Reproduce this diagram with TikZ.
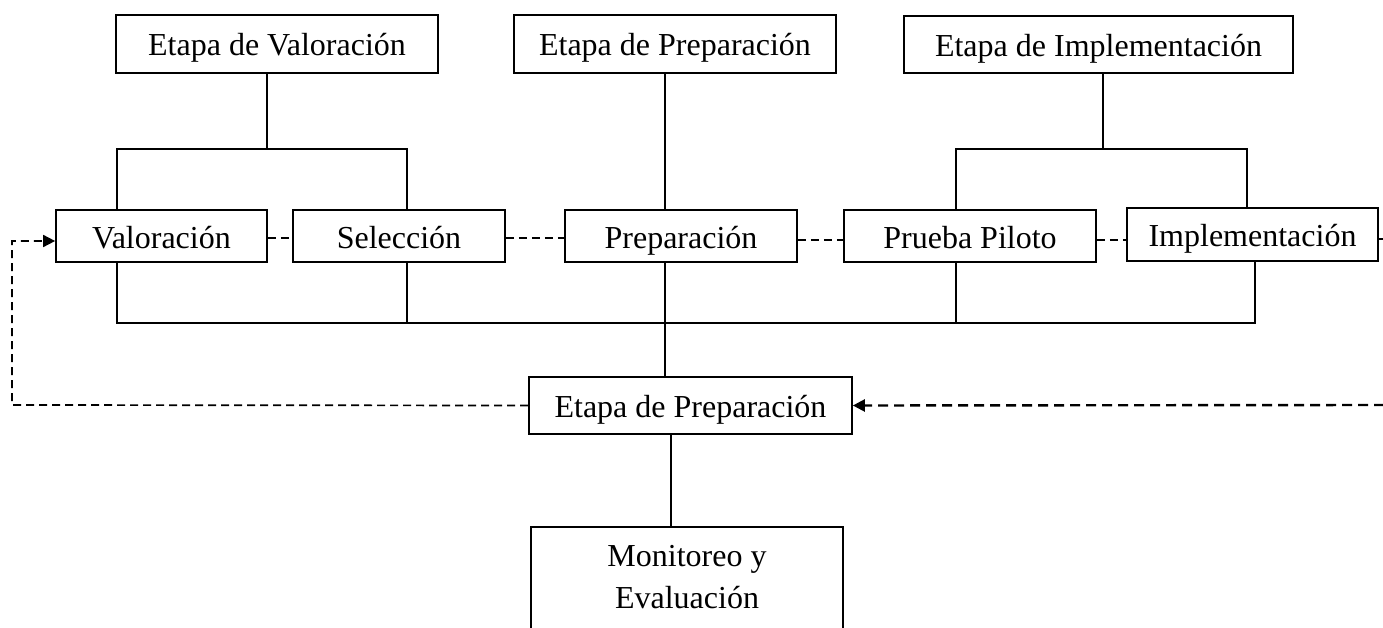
\documentclass[tikz,border=0pt]{standalone}
\usepackage{fontspec}
\setmainfont{Liberation Serif}
\usetikzlibrary{arrows.meta,calc}
\begin{document}
\begin{tikzpicture}[x=1pt,y=-1pt,
  box/.style={draw, line width=1.7pt, inner sep=0pt, text height=24pt, text depth=0pt, font=\fontsize{32}{38}\selectfont},
  conn/.style={line width=1.7pt},
  dconn/.style={line width=1.7pt, dash pattern=on 8pt off 5pt},
  dconnb/.style={line width=2.4pt, dash pattern=on 10pt off 6pt},
  tip/.style={-{Triangle[length=12pt,width=12pt]}}]
\clip (0,0) rectangle (1383,628);
\fill[white] (0,0) rectangle (1383,628);
% top row
\node[box, minimum width=322pt, minimum height=58pt] (ev) at (277,44) {Etapa de Valoración};
\node[box, minimum width=322pt, minimum height=58pt] (ep) at (675,44) {Etapa de Preparación};
\node[box, minimum width=389pt, minimum height=57pt] (ei) at (1098.5,44.5) {Etapa de Implementación};
% middle row
\node[box, minimum width=211pt, minimum height=52pt] (val) at (161.5,236) {Valoración};
\node[box, minimum width=212pt, minimum height=52pt] (sel) at (399,236) {Selección};
\node[box, minimum width=232pt, minimum height=52pt] (prep) at (681,236) {Preparación};
\node[box, minimum width=252pt, minimum height=52pt] (pp) at (970,236) {Prueba Piloto};
\node[box, minimum width=251pt, minimum height=53pt] (impl) at (1252.5,234.5) {Implementación};
% lower boxes
\node[box, minimum width=323pt, minimum height=57pt] (ep2) at (690.5,405.5) {Etapa de Preparación};
\node[draw, line width=1.7pt, minimum width=312pt, minimum height=160pt, anchor=north, inner sep=0pt] (mon) at (687,526) {};
\node[align=center, inner sep=0pt, font=\fontsize{32}{42}\selectfont] (montext) at (687,577) {Monitoreo y\\Evaluación};
% junction coordinates
\coordinate (tv) at (267,149);
\coordinate (bl) at (117,149);
\coordinate (br) at (407,149);
\coordinate (tc) at (665,149);
\coordinate (ti) at (1103,149);
\coordinate (il) at (956,149);
\coordinate (ir) at (1247,149);
\coordinate (ul) at (117,323);
\coordinate (us) at (407,323);
\coordinate (uc) at (665,323);
\coordinate (up) at (956,323);
\coordinate (ur) at (1255,323);
\coordinate (ml) at (671,434);
\coordinate (fl) at (12,405);
\coordinate (fu) at (12,241);
\coordinate (fr) at (1384,405);
\coordinate (ie) at (1384,239);
% top brackets
\draw[conn] (ev.south -| tv) -- (tv);
\draw[conn] (val.north -| bl) -- (bl) -- (br) -- (sel.north -| br);
\draw[conn] (ep.south -| tc) -- (prep.north -| tc);
\draw[conn] (ei.south -| ti) -- (ti);
\draw[conn] (pp.north -| il) -- (il) -- (ir) -- (impl.north -| ir);
% bottom bus
\draw[conn] (val.south -| ul) -- (ul) -- (ur) -- (impl.south -| ur);
\draw[conn] (sel.south -| us) -- (us);
\draw[conn] (pp.south -| up) -- (up);
\draw[conn] (prep.south -| uc) -- (ep2.north -| uc);
\draw[conn] (ep2.south -| ml) -- (mon.north -| ml);
% dashed links
\draw[dconn] ($(val.east)+(0,2)$) -- ($(sel.west)+(0,2)$);
\draw[dconn] ($(sel.east)+(0,2)$) -- ($(prep.west)+(0,2)$);
\draw[dconn] ($(prep.east)+(0,4)$) -- ($(pp.west)+(0,4)$);
\draw[dconn] ($(pp.east)+(0,4)$) -- ($(impl.west)+(0,5.5)$);
\draw[dconn] ($(impl.east)+(0,4.5)$) -- (ie);
% feedback loops
\draw[dconn, tip] (ep2.west) -- (fl) -- (fu) -- (val.west |- fu);
\draw[dconnb, tip] (fr) -- (ep2.east);
\end{tikzpicture}
\end{document}
